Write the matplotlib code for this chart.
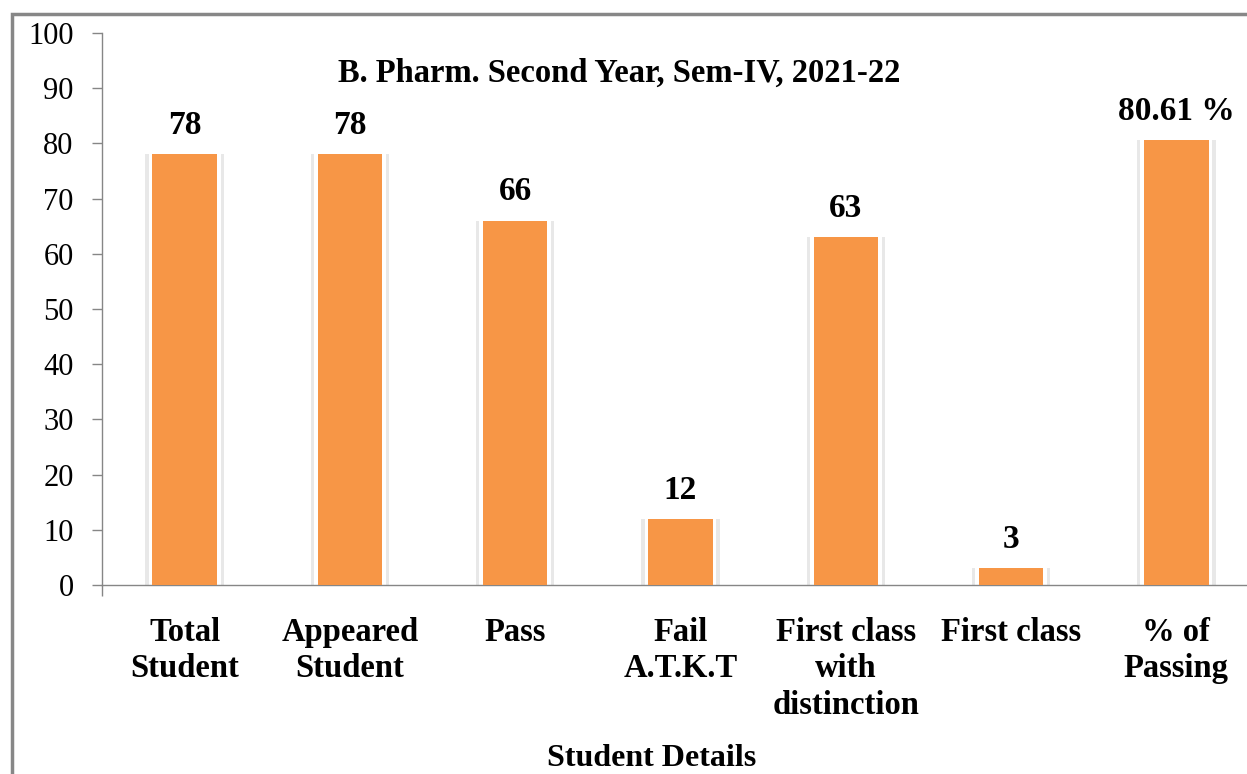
import numpy as np
import matplotlib.pyplot as plt
from matplotlib.patches import Rectangle

categories = ["Total\nStudent", "Appeared\nStudent", "Pass", "Fail\nA.T.K.T",
              "First class\nwith\ndistinction", "First class", "% of\nPassing"]
values = [78, 78, 66, 12, 63, 3, 80.61]
value_labels = ["78", "78", "66", "12", "63", "3", "80.61 %"]

plt.rcParams["font.family"] = ["Liberation Serif", "DejaVu Serif"]

W, H = 1247, 774
fig = plt.figure(figsize=(W / 100, H / 100), dpi=100)
ax = fig.add_axes([102 / W, 189 / H, 1157 / W, 552 / H])

x = np.arange(len(categories))
# soft grey glow + white rim behind each orange bar
ax.bar(x, values, 0.475, color="#e8e8e8", zorder=1)
ax.bar(x, values, 0.435, color="white", zorder=2)
ax.bar(x, values, 0.39, color="#F79646", zorder=3)

for xi, v, lbl in zip(x, values, value_labels):
    ax.annotate(lbl, (xi, v), xytext=(0, 9.5), textcoords="offset points",
                ha="center", va="bottom", fontsize=24, fontweight="bold")

ax.set_xlim(-0.5, 6.5)
ax.set_ylim(0, 100)
ax.set_yticks(np.arange(0, 101, 10))
ax.tick_params(axis="y", labelsize=22, length=7.5, width=1, color="#868686", pad=13)

ax.set_xticks(x)
ax.set_xticklabels(categories, fontsize=23.5, fontweight="bold", linespacing=1.22)
ax.tick_params(axis="x", length=0, pad=23)
ax.set_xticks([-0.5], minor=True)
ax.tick_params(axis="x", which="minor", length=8, width=1, color="#868686")

for s in ["top", "right"]:
    ax.spines[s].set_visible(False)
for s in ["left", "bottom"]:
    ax.spines[s].set_color("#868686")
    ax.spines[s].set_linewidth(1)

ax.text(2.63, 92.7, "B. Pharm. Second Year, Sem-IV, 2021-22", ha="center", va="center",
        fontsize=23.5, fontweight="bold")

fig.text(652 / W, 1 - 758 / H, "Student Details", ha="center", va="center",
         fontsize=23, fontweight="bold")

fig.patches.append(Rectangle((12 / W, -0.1), 1.2, 1 - 14 / H + 0.1, transform=fig.transFigure,
                             fill=False, edgecolor="#878787", linewidth=2.5))

fig.savefig("out.png", dpi=100)
